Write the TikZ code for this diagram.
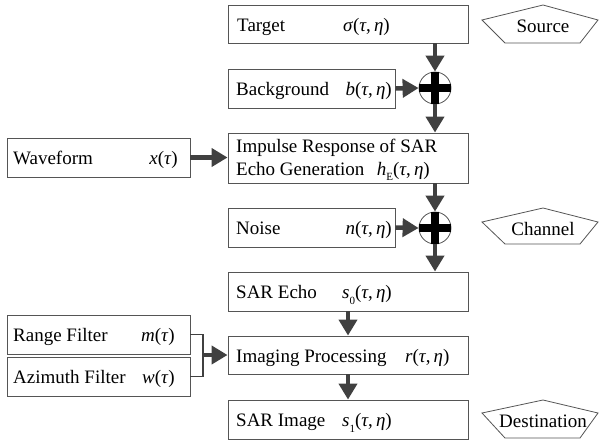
\documentclass[tikz,border=0pt]{standalone}
\usepackage{fontspec}
\setmainfont{Liberation Serif}
\usetikzlibrary{arrows.meta}
\definecolor{arr}{HTML}{404040}
\definecolor{bord}{HTML}{555555}
\newcommand{\lowidx}[1]{\raisebox{-0.3em}{\fontsize{11}{11}\selectfont #1}}
\newcommand{\mi}[1]{\textit{#1}}
\begin{document}
\begin{tikzpicture}[x=1pt,y=-1pt,
  font=\rmfamily\fontsize{19}{22}\selectfont,
  box/.style={draw=bord, line width=0.9pt, inner sep=0, minimum height=39pt},
  wbox/.style={box, minimum width=240pt},
  nbox/.style={box, minimum width=167pt},
  lbox/.style={box, minimum width=183pt},
  lab/.style={anchor=base west, inner sep=0},
  mlab/.style={anchor=base east, inner sep=0},
  arrow/.style={draw=arr, line width=4.5pt, -{Triangle[length=16pt,width=18pt]}},
  bracket/.style={draw=arr, line width=1.6pt},
  sumc/.style={circle, draw=bord, fill=white, line width=0.8pt, minimum size=32pt, inner sep=0},
  plus/.style={draw=black, line width=8pt},
  penta/.style={draw=bord, line width=0.8pt},
  ptext/.style={inner sep=0}
]
\path[use as bounding box] (0,0) rectangle (599,440);

% main column
\node[wbox, minimum height=38pt] (tgt) at (348,24) {};
\node[lab] (tgtL) at (237,31) {Target};
\node[mlab] (tgtM) at (390,31) {\mi{σ}(\mi{τ},\,\mi{η})};

\node[nbox] (bg) at (311.5,88.5) {};
\node[lab] (bgL) at (236,95.5) {Background};
\node[mlab] (bgM) at (392,95.5) {\mi{b}(\mi{τ},\,\mi{η})};

\node[wbox, minimum height=50pt] (imp) at (348,158) {};
\node[lab] (impL1) at (236,152) {Impulse Response of SAR};
\node[lab] (impL2) at (236,175) {Echo Generation};
\node[mlab] (impM) at (430,175) {\mi{h}\lowidx{E}(\mi{τ},\,\mi{η})};

\node[nbox] (noise) at (311.5,227.5) {};
\node[lab] (noiseL) at (236,234.5) {Noise};
\node[mlab] (noiseM) at (392,234.5) {\mi{n}(\mi{τ},\,\mi{η})};

\node[wbox] (echo) at (348,291.5) {};
\node[lab] (echoL) at (236,298.5) {SAR Echo};
\node[mlab] (echoM) at (392,298.5) {\mi{s}\lowidx{0}(\mi{τ},\,\mi{η})};

\node[wbox, minimum height=38pt] (imgp) at (348,355) {};
\node[lab] (imgpL) at (236,362) {Imaging Processing};
\node[lab] (imgpM) at (405,362) {\mi{r}(\mi{τ},\,\mi{η})};

\node[wbox] (img) at (348,419.5) {};
\node[lab] (imgL) at (236,426.5) {SAR Image};
\node[mlab] (imgM) at (392,426.5) {\mi{s}\lowidx{1}(\mi{τ},\,\mi{η})};

% left column
\node[lbox] (wave) at (98.5,157.5) {};
\node[lab] (waveL) at (13,164.5) {Waveform};
\node[mlab] (waveM) at (178,164.5) {\mi{x}(\mi{τ})};

\node[lbox] (range) at (98.5,334.5) {};
\node[lab] (rangeL) at (13,341.5) {Range Filter};
\node[mlab] (rangeM) at (175,341.5) {\mi{m}(\mi{τ})};

\node[lbox] (azi) at (98.5,376.5) {};
\node[lab] (aziL) at (13,383.5) {Azimuth Filter};
\node[mlab] (aziM) at (175,383.5) {\mi{w}(\mi{τ})};

% summing junctions
\node[sumc] (s1) at (435,88) {};
\draw[plus] (s1.north) -- (s1.south) (s1.west) -- (s1.east);
\node[sumc] (s2) at (435,228) {};
\draw[plus] (s2.north) -- (s2.south) (s2.west) -- (s2.east);

% connectors
\draw[arrow] (s1 |- tgt.south) -- (s1.north);
\draw[arrow] (bg.east) -- (s1.west);
\draw[arrow] (s1.south) -- (s1 |- imp.north);
\draw[arrow] (wave.east) -- (wave.east -| imp.west);
\draw[arrow] (s2 |- imp.south) -- (s2.north);
\draw[arrow] (noise.east) -- (s2.west);
\draw[arrow] (s2.south) -- (s2 |- echo.north);
\draw[arrow] (echo.south) -- (imgp.north);
\draw[arrow] (imgp.south) -- (img.north);

\coordinate (br) at (203,355);
\draw[bracket] (range.east) -- (range.east -| br) -- (azi.east -| br) -- (azi.east);
\draw[arrow] (br) -- (imgp.west);

% pentagons
\draw[penta] (543,5) -- (598,20) -- (580,43) -- (505,43) -- (482,20) -- cycle;
\node[ptext] (src) at (543,26) {Source};
\draw[penta] (543,208) -- (598,222) -- (580,244) -- (505,244) -- (482,222) -- cycle;
\node[ptext] (chn) at (543,229) {Channel};
\draw[penta] (543,400) -- (598,413) -- (580,438) -- (505,438) -- (482,413) -- cycle;
\node[ptext] (dst) at (543,421) {Destination};
\end{tikzpicture}
\end{document}
